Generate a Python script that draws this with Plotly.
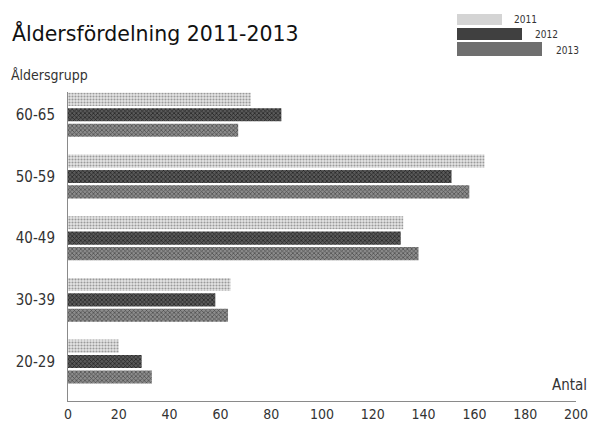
import plotly.graph_objects as go

categories = ["20-29", "30-39", "40-49", "50-59", "60-65"]
years = ["2011", "2012", "2013"]
values_2011 = [20, 64, 132, 164, 72]
values_2012 = [29, 58, 131, 151, 84]
values_2013 = [33, 63, 138, 158, 67]
x_ticks = [0, 20, 40, 60, 80, 100, 120, 140, 160, 180, 200]

series = {"2011": values_2011, "2012": values_2012, "2013": values_2013}
styles = {
    "2011": dict(bgcolor="#e6e6e6", fgcolor="#9a9a9a", shape=".", size=3, solidity=0.4),
    "2012": dict(bgcolor="#5a5a5a", fgcolor="#202020", shape="x", size=3, solidity=0.4),
    "2013": dict(bgcolor="#8c8c8c", fgcolor="#474747", shape="x", size=3, solidity=0.4),
}
swatch_color = {"2011": "#d4d4d4", "2012": "#404040", "2013": "#6e6e6e"}

LBL_FONT = "Liberation Sans Narrow, DejaVu Sans Condensed, Arial Narrow, sans-serif"

fig = go.Figure()
ypos = list(range(len(categories)))
for yr in reversed(years):
    fig.add_trace(go.Bar(
        x=series[yr], y=ypos, orientation="h", name=yr,
        marker=dict(color=styles[yr]["bgcolor"], line=dict(width=0),
                    pattern=dict(shape=styles[yr]["shape"], bgcolor=styles[yr]["bgcolor"],
                                 fgcolor=styles[yr]["fgcolor"], size=styles[yr]["size"],
                                 solidity=styles[yr]["solidity"], fillmode="replace")),
        showlegend=False,
    ))

L, R, T, B = 68, 576, 92, 401
W, H = 592, 424

def px(x):
    return (x - L) / (R - L)

def py(y):
    return (B - y) / (B - T)

# custom staggered legend
leg = [("2011", 457, 502, 14, 25, 512, 19),
       ("2012", 457, 522, 28, 40, 533, 34),
       ("2013", 457, 542, 42, 56, 554, 51)]
shapes = []
annotations = []
for yr, x0, x1, y0, y1, tx, ty in leg:
    shapes.append(dict(type="rect", xref="paper", yref="paper",
                       x0=px(x0), x1=px(x1), y0=py(y1), y1=py(y0),
                       fillcolor=swatch_color[yr], line=dict(width=0), layer="above"))
    annotations.append(dict(text=yr, xref="paper", yref="paper", x=px(tx), y=py(ty),
                            xanchor="left", yanchor="middle", showarrow=False,
                            font=dict(family=LBL_FONT, size=10, color="#333")))

annotations.append(dict(text="Åldersfördelning 2011-2013", xref="paper", yref="paper",
                        x=px(10), y=py(33), xanchor="left", yanchor="middle", showarrow=False,
                        font=dict(family="DejaVu Sans, sans-serif", size=20.5, color="#111")))
annotations.append(dict(text="Åldersgrupp", xref="paper", yref="paper",
                        x=px(9), y=py(75), xanchor="left", yanchor="middle", showarrow=False,
                        font=dict(family=LBL_FONT, size=14, color="#333")))
annotations.append(dict(text="Antal", xref="paper", yref="paper",
                        x=px(589), y=py(385), xanchor="right", yanchor="middle", showarrow=False,
                        font=dict(family=LBL_FONT, size=15, color="#333")))

fig.update_layout(
    width=W, height=H,
    margin=dict(l=L, r=W - R, t=T, b=H - B, pad=0),
    paper_bgcolor="white", plot_bgcolor="white",
    barmode="group", bargap=0.25, bargroupgap=0.15,
    shapes=shapes, annotations=annotations,
    xaxis=dict(range=[0, 200], tickvals=x_ticks, ticktext=[str(v) for v in x_ticks],
               automargin=False,
               showgrid=False, zeroline=False, showline=True, linecolor="#8a8a8a", linewidth=1,
               ticks="", tickfont=dict(family=LBL_FONT, size=14, color="#333")),
    yaxis=dict(range=[-0.64, 4.37], tickvals=ypos, ticktext=categories,
               automargin=False,
               showgrid=False, zeroline=False, showline=True, linecolor="#8a8a8a", linewidth=1,
               ticks="outside", ticklen=9, tickcolor="rgba(0,0,0,0)",
               tickfont=dict(family=LBL_FONT, size=15, color="#333")),
)

fig.write_html("out.html", config={"displayModeBar": False},
               post_script="document.body.style.margin='0';document.body.style.overflow='hidden';")
